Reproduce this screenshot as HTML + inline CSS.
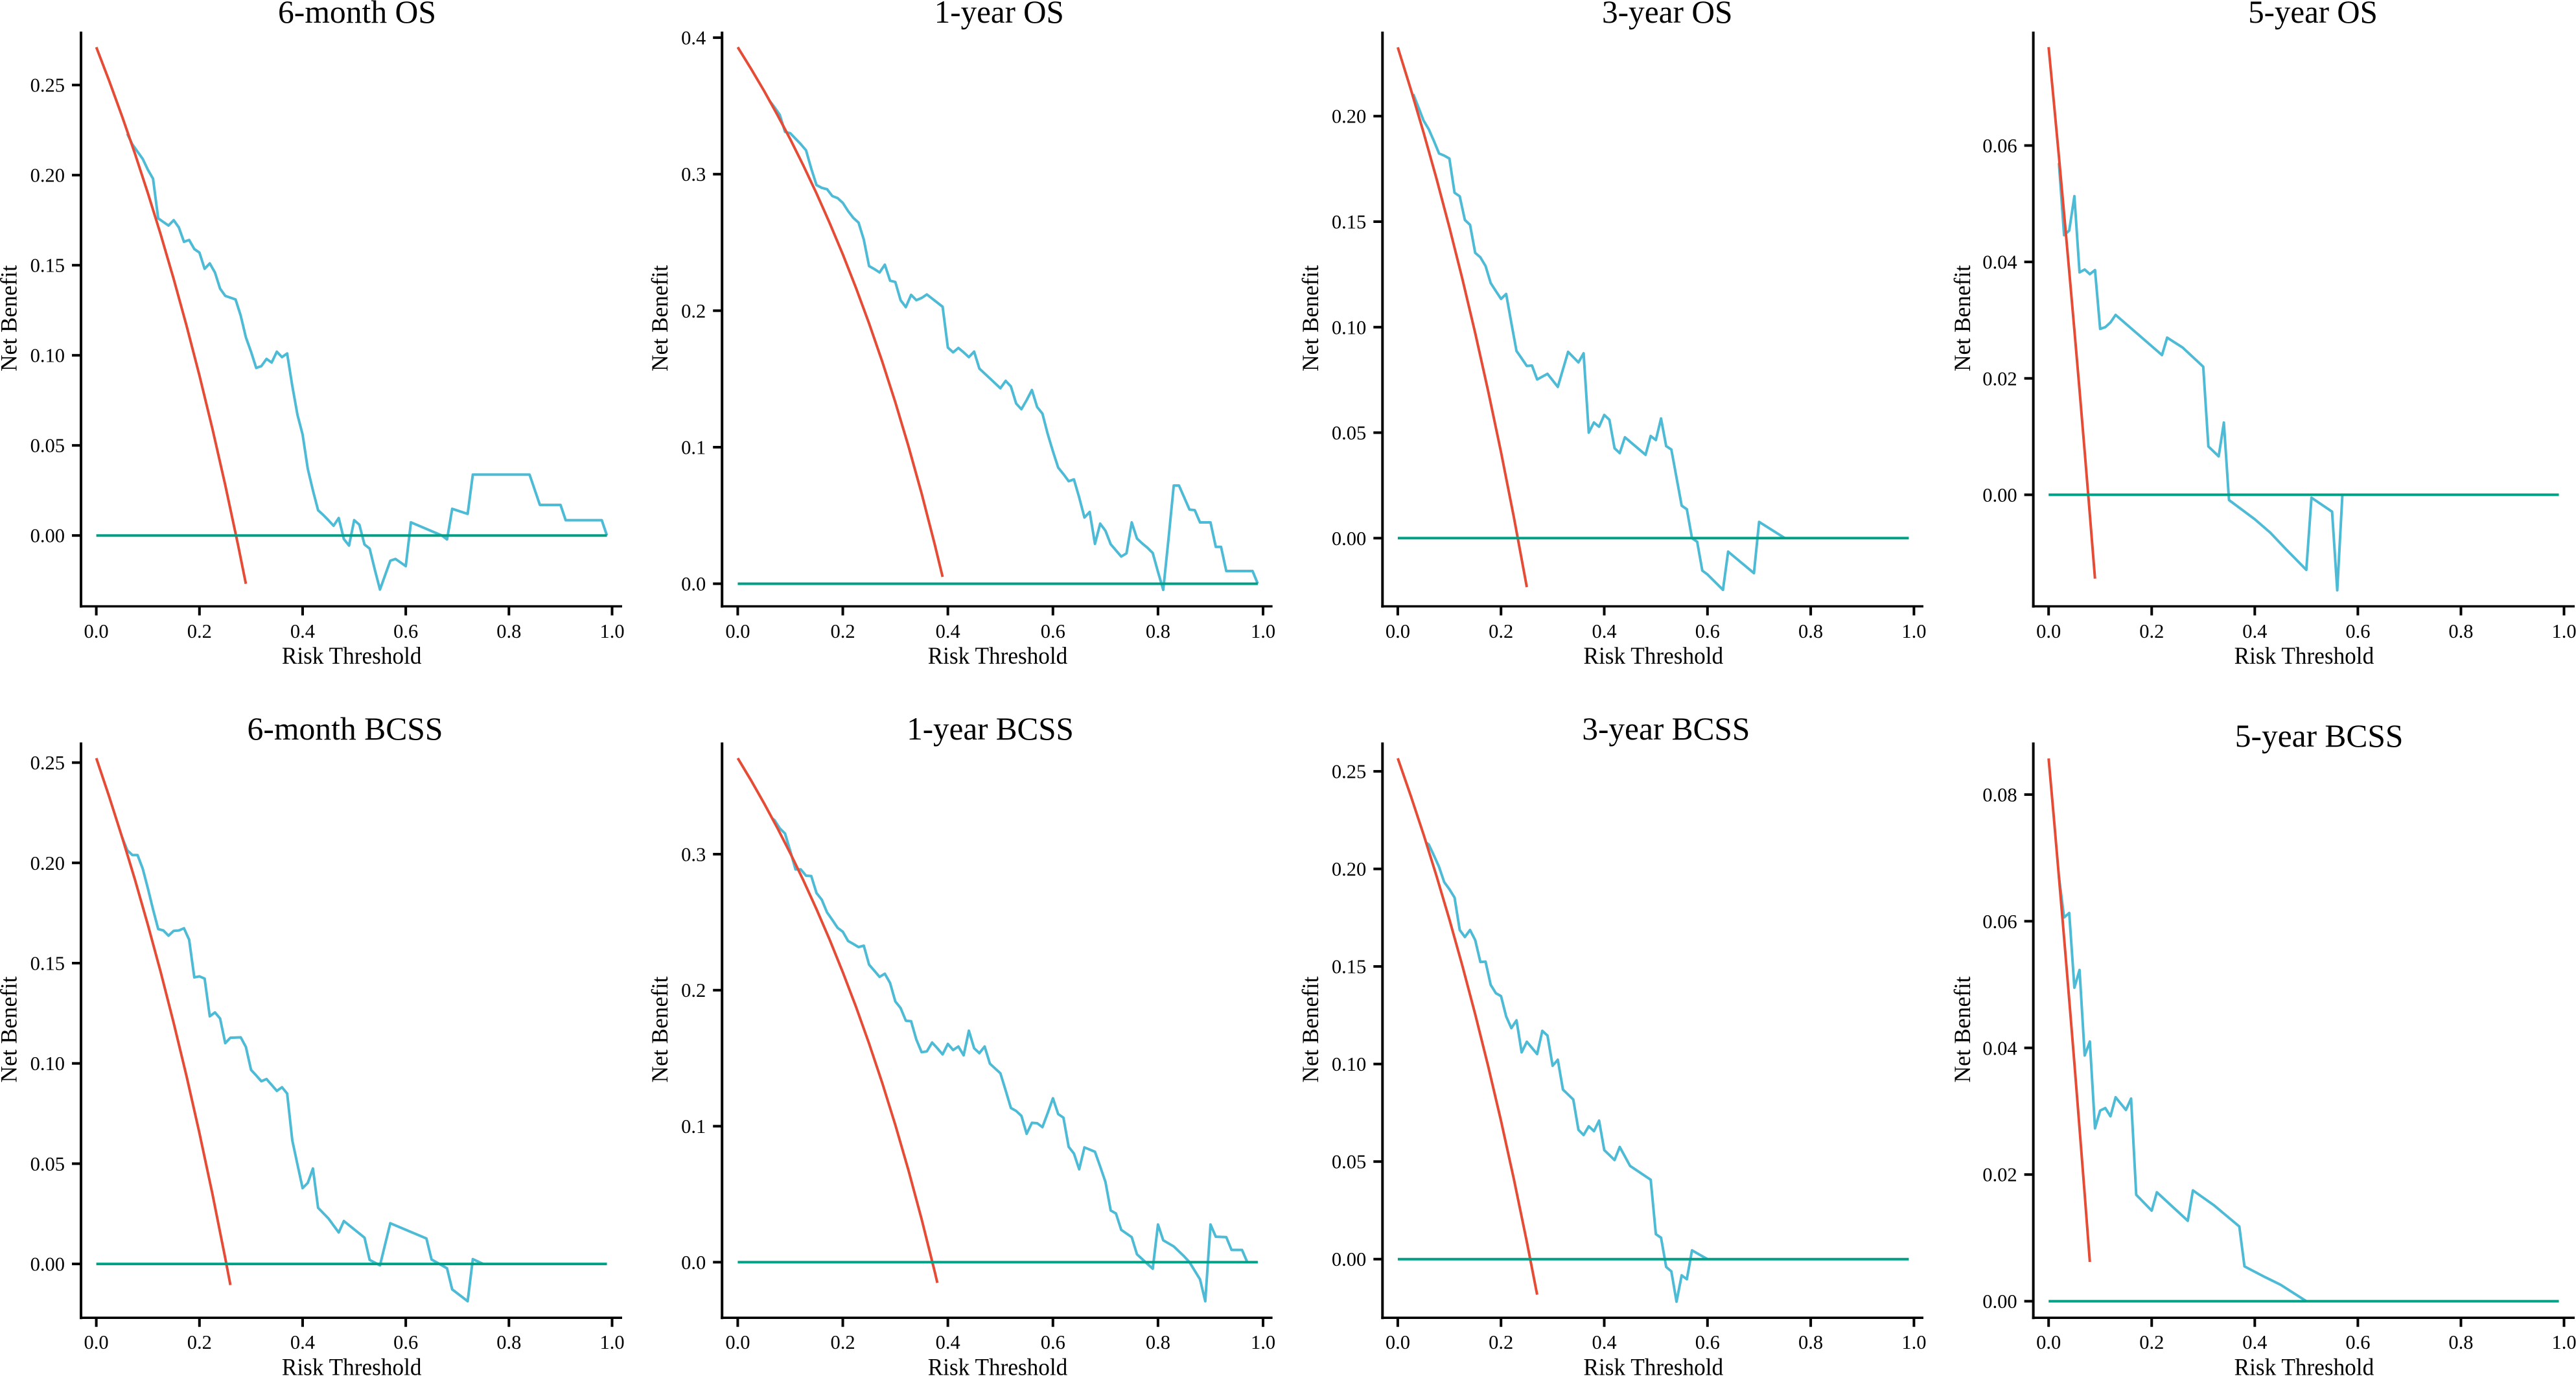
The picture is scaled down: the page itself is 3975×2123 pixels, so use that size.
<!DOCTYPE html>
<html lang="en">
<head>
<meta charset="utf-8">
<title>Decision curves for OS and BCSS</title>
<style>
html,body{margin:0;padding:0;background:#fff;width:3975px;height:2123px;overflow:hidden}
svg{display:block}
text{font-family:"Liberation Serif",serif;fill:#000}
</style>
</head>
<body>
<svg id="chart" xmlns="http://www.w3.org/2000/svg" width="3975" height="2123" viewBox="0 0 3975 2123"></svg>
<script>
// ---- Shared series: "treat none" reference ----
const noneT = [0, 0.99];
const noneNB = [0, 0];
const xTickValues = [0, 0.2, 0.4, 0.6, 0.8, 1.0];
const xTickLabels = ["0.0", "0.2", "0.4", "0.6", "0.8", "1.0"];

// ---- 6-month OS ----
const os6mTicks = ["0.00", "0.05", "0.10", "0.15", "0.20", "0.25"];
const os6mAllT = [0, .025, .05, .075, .1, .125, .15, .175, .2, .225, .25, .275, .29];
const os6mAllNB = [.271, .2523, .2326, .2119, .19, .1669, .1424, .1164, .0888, .0594, .028, -.0055, -.0268];
const os6mModelT = [.06,.07,.08,.09,.10,.11,.12,.13,.14,.15,.16,.17,.18,.19,.20,.21,.22,.23,.24,.25,.26,.27,.28,.29,.30,.31,.32,.33,.34,.35,.36,.37,.38,.39,.40,.41,.42,.43,.44,.45,.46,.47,.48,.49,.50,.51,.52,.53,.54,.55,.56,.57,.58,.59,.60,.61,.67,.68,.69,.72,.73,.84,.86,.90,.91,.98,.99];
const os6mModelNB = [.223,.217,.213,.209,.203,.198,.176,.174,.172,.175,.171,.163,.164,.159,.157,.148,.151,.146,.137,.133,.132,.131,.122,.110,.102,.093,.094,.098,.096,.102,.099,.101,.083,.067,.056,.037,.025,.014,.0114,.0085,.0054,.0097,-.002,-.0056,.0085,.006,-.005,-.0073,-.019,-.030,-.022,-.014,-.013,-.015,-.017,.0073,0,-.0022,.0148,.012,.0338,.0338,.017,.017,.0085,.0085,0];

// ---- 1-year OS ----
const os1yTicks = ["0.0", "0.1", "0.2", "0.3", "0.4"];
const os1yAllT = [0, .025, .05, .075, .1, .125, .15, .175, .2, .225, .25, .275, .3, .325, .35, .375, .39];
const os1yAllNB = [.393, .3774, .3611, .3438, .3256, .3063, .2859, .2642, .2413, .2168, .1907, .1628, .1329, .1007, .0662, .0288, .005];
const os1yModelT = [.06,.07,.08,.09,.10,.11,.12,.13,.14,.15,.16,.17,.18,.19,.20,.21,.22,.23,.24,.25,.26,.27,.28,.29,.30,.31,.32,.33,.34,.35,.36,.39,.40,.41,.42,.43,.44,.45,.46,.50,.51,.52,.53,.54,.55,.56,.57,.58,.59,.60,.61,.62,.63,.64,.65,.66,.67,.68,.69,.70,.71,.72,.73,.74,.75,.76,.77,.78,.79,.80,.81,.82,.83,.84,.86,.87,.88,.90,.91,.92,.93,.98,.99];
const os1yModelNB = [.354,.349,.3435,.331,.330,.326,.322,.3175,.304,.292,.290,.289,.284,.2825,.279,.273,.268,.2645,.252,.2327,.2305,.228,.2337,.222,.221,.2077,.2026,.2116,.2077,.2093,.2119,.2029,.173,.1695,.1727,.1695,.166,.170,.1576,.1432,.1486,.1445,.132,.1278,.1345,.1419,.1294,.1246,.1098,.097,.0851,.0803,.0751,.0764,.0632,.0485,.0526,.0292,.044,.0388,.0289,.0244,.0199,.0222,.0449,.0331,.0295,.0263,.0225,.0087,-.0045,.0327,.0719,.0719,.0543,.0539,.0449,.0449,.027,.027,.0093,.0093,0];

// ---- 3-year OS ----
const os3yTicks = ["0.00", "0.05", "0.10", "0.15", "0.20"];
const os3yAllT = [0, .025, .05, .075, .1, .125, .15, .175, .2, .225, .25];
const os3yAllNB = [.2326, .2129, .1922, .1704, .1473, .123, .0972, .0698, .0408, .0098, -.0232];
const os3yModelT = [.03,.04,.05,.06,.07,.08,.09,.10,.11,.12,.13,.14,.15,.16,.17,.18,.19,.20,.21,.22,.23,.24,.25,.26,.27,.29,.31,.33,.35,.36,.37,.38,.39,.40,.41,.42,.43,.44,.48,.49,.50,.51,.52,.53,.55,.56,.57,.58,.59,.60,.63,.64,.69,.70,.75];
const os3yModelNB = [.2104,.2042,.1979,.1938,.1882,.1823,.1813,.1799,.1637,.162,.1508,.1485,.1352,.1331,.129,.1209,.1171,.1134,.1157,.102,.0887,.0852,.0816,.0818,.0752,.0779,.0717,.0883,.0833,.0876,.05,.0548,.0528,.0584,.0561,.0426,.0403,.0478,.0395,.0484,.0465,.0567,.0436,.042,.0154,.0137,0,-.0017,-.0154,-.0172,-.0245,-.0064,-.0166,.0077,0];

// ---- 5-year OS ----
const os5yTicks = ["0.00", "0.02", "0.04", "0.06"];
const os5yAllT = [0, .01, .02, .03, .04, .05, .06, .07, .08, .09];
const os5yAllNB = [.0769, .0676, .0581, .0483, .0384, .0283, .018, .0074, -.0034, -.0144];
const os5yModelT = [.02,.03,.04,.05,.06,.07,.08,.09,.10,.11,.12,.13,.22,.23,.26,.30,.31,.33,.34,.35,.40,.43,.46,.50,.51,.55,.56,.57];
const os5yModelNB = [.057,.0446,.0454,.0513,.0382,.0387,.0379,.0386,.0285,.0288,.0296,.0309,.024,.027,.0253,.022,.0083,.0066,.0124,-.0009,-.0042,-.0065,-.0093,-.0129,-.0005,-.0029,-.0164,0];

// ---- 6-month BCSS ----
const bcss6mTicks = ["0.00", "0.05", "0.10", "0.15", "0.20", "0.25"];
const bcss6mAllT = [0, .025, .05, .075, .1, .125, .15, .175, .2, .225, .25, .26];
const bcss6mAllNB = [.2522, .233, .2128, .1916, .1691, .1454, .1202, .0936, .0652, .0351, .0029, -.0105];
const bcss6mModelT = [.05,.06,.07,.08,.09,.10,.11,.12,.13,.14,.15,.16,.17,.18,.19,.20,.21,.22,.23,.24,.25,.26,.28,.29,.30,.31,.32,.33,.35,.36,.37,.38,.39,.40,.41,.42,.43,.45,.47,.48,.52,.53,.55,.57,.64,.65,.67,.68,.69,.72,.73,.75];
const bcss6mModelNB = [.2128,.2063,.2039,.2039,.1971,.1873,.1768,.167,.1663,.1637,.1661,.1663,.1674,.1617,.1429,.1434,.1423,.1235,.1254,.1224,.1101,.1128,.113,.1082,.0968,.094,.0911,.0922,.0863,.0881,.085,.0616,.0496,.0378,.0404,.0476,.028,.0227,.0157,.0214,.0131,.002,-.0007,.0203,.0127,.0022,-.0007,-.0022,-.0127,-.0186,.0024,0];

// ---- 1-year BCSS ----
const bcss1yTicks = ["0.0", "0.1", "0.2", "0.3"];
const bcss1yAllT = [0, .025, .05, .075, .1, .125, .15, .175, .2, .225, .25, .275, .3, .325, .35, .375, .38];
const bcss1yAllNB = [.3706, .3545, .3375, .3196, .3007, .2807, .2595, .2371, .2132, .1879, .1608, .1319, .1009, .0676, .0317, -.007, -.0152];
const bcss1yModelT = [.065,.07,.08,.09,.10,.11,.12,.13,.14,.15,.16,.17,.18,.19,.20,.21,.22,.23,.24,.25,.26,.27,.28,.29,.30,.31,.32,.33,.34,.35,.36,.37,.38,.39,.40,.41,.42,.43,.44,.45,.46,.47,.48,.49,.50,.51,.52,.53,.54,.55,.56,.57,.58,.59,.60,.61,.62,.63,.64,.65,.66,.68,.69,.70,.71,.72,.73,.75,.76,.78,.79,.80,.81,.83,.85,.86,.88,.89,.90,.91,.93,.94,.96,.97];
const bcss1yModelNB = [.3265,.325,.319,.3152,.3023,.2888,.2888,.2842,.2839,.2714,.2665,.2572,.2517,.2459,.243,.2362,.234,.2317,.2327,.2188,.2143,.2098,.2121,.2053,.1917,.1869,.1776,.1772,.1637,.1544,.155,.1615,.1573,.1528,.1605,.156,.1586,.1521,.1702,.1573,.1537,.1586,.146,.1424,.1389,.1263,.1134,.1112,.1076,.0944,.1025,.1022,.0993,.1096,.1205,.1089,.1063,.0848,.0799,.0683,.0844,.0812,.0703,.059,.038,.0358,.0238,.0184,.0058,-.0013,-.0048,.0277,.0161,.0116,.0042,0,-.0126,-.0287,.0277,.0187,.0184,.009,.009,0];

// ---- 3-year BCSS ----
const bcss3yTicks = ["0.00", "0.05", "0.10", "0.15", "0.20", "0.25"];
const bcss3yAllT = [0, .025, .05, .075, .1, .125, .15, .175, .2, .225, .25, .27];
const bcss3yAllNB = [.2567, .2376, .2176, .1964, .1741, .1505, .1255, .099, .0709, .0409, .0089, -.0182];
const bcss3yModelT = [.055,.06,.07,.08,.09,.10,.11,.12,.13,.14,.15,.16,.17,.18,.19,.20,.21,.22,.23,.24,.25,.27,.28,.29,.30,.31,.32,.34,.35,.36,.37,.38,.39,.40,.42,.43,.45,.49,.50,.51,.52,.53,.54,.55,.56,.57,.60];
const bcss3yModelNB = [.2135,.2125,.2069,.201,.1932,.1896,.1853,.1687,.1651,.1687,.1635,.1523,.1525,.1406,.1363,.1348,.1244,.1184,.1224,.106,.1114,.1051,.117,.1146,.0991,.1022,.0869,.0818,.0663,.0636,.0681,.0656,.071,.0559,.0508,.0575,.0478,.0407,.0128,.011,-.004,-.0063,-.0218,-.0083,-.0103,.0045,0];

// ---- 5-year BCSS ----
const bcss5yTicks = ["0.00", "0.02", "0.04", "0.06", "0.08"];
const bcss5yAllT = [0, .01, .02, .03, .04, .05, .06, .07, .08];
const bcss5yAllNB = [.0857, .0765, .067, .0574, .0476, .0376, .0273, .0169, .0062];
const bcss5yModelT = [.02,.03,.04,.05,.06,.07,.08,.09,.10,.11,.12,.13,.15,.16,.17,.20,.21,.27,.28,.32,.37,.38,.42,.45,.50];
const bcss5yModelNB = [.067,.0606,.0613,.0495,.0523,.0388,.041,.0273,.0301,.0305,.0292,.0322,.0302,.032,.0168,.0143,.0172,.0127,.0175,.0152,.0118,.0055,.0038,.0026,0];

// ---- Layout (pixels) ----
const panels = [
  {key:"os-6-month",title:"6-month OS",ticks:os6mTicks,allT:os6mAllT,allNB:os6mAllNB,modelT:os6mModelT,modelNB:os6mModelNB,left:125,x0:148.6,x1:944.5,end:960,top:48.7,bottom:935.5,y0:826.2,yRefVal:.25,yRefPx:131.2,titleX:551,titleY:35,titleW:244,xTitleX:542.7,xTitleY:1024,tickLabelY:984,yTitleX:25.5,yTitleY:491},
  {key:"os-1-year",title:"1-year OS",ticks:os1yTicks,allT:os1yAllT,allNB:os1yAllNB,modelT:os1yModelT,modelNB:os1yModelNB,left:1114.2,x0:1138.4,x1:1949,end:1963.6,top:48.7,bottom:935.5,y0:900.6,yRefVal:.4,yRefPx:58.1,titleX:1541.8,titleY:35,titleW:200,xTitleX:1539.5,xTitleY:1024,tickLabelY:984,yTitleX:1030,yTitleY:491},
  {key:"os-3-year",title:"3-year OS",ticks:os3yTicks,allT:os3yAllT,allNB:os3yAllNB,modelT:os3yModelT,modelNB:os3yModelNB,left:2133.3,x0:2156.9,x1:2953.4,end:2968,top:48.7,bottom:935.5,y0:830.3,yRefVal:.2,yRefPx:179.2,titleX:2572.7,titleY:35,titleW:201.5,xTitleX:2551.3,xTitleY:1024,tickLabelY:984,yTitleX:2033.8,yTitleY:491},
  {key:"os-5-year",title:"5-year OS",ticks:os5yTicks,allT:os5yAllT,allNB:os5yAllNB,modelT:os5yModelT,modelNB:os5yModelNB,left:3137.6,x0:3161.2,x1:3956.5,end:3973,top:48.7,bottom:935.5,y0:763.4,yRefVal:.06,yRefPx:224.5,titleX:3569,titleY:35,titleW:199.6,xTitleX:3555.4,xTitleY:1024,tickLabelY:984,yTitleX:3040,yTitleY:491},
  {key:"bcss-6-month",title:"6-month BCSS",ticks:bcss6mTicks,allT:bcss6mAllT,allNB:bcss6mAllNB,modelT:bcss6mModelT,modelNB:bcss6mModelNB,left:125,x0:148.6,x1:944.5,end:960,top:1145.5,bottom:2033.2,y0:1950.1,yRefVal:.25,yRefPx:1176.6,titleX:532.5,titleY:1141,titleW:302,xTitleX:542.7,xTitleY:2121.5,tickLabelY:2081,yTitleX:25.5,yTitleY:1588.4},
  {key:"bcss-1-year",title:"1-year BCSS",ticks:bcss1yTicks,allT:bcss1yAllT,allNB:bcss1yAllNB,modelT:bcss1yModelT,modelNB:bcss1yModelNB,left:1114.2,x0:1138.4,x1:1949,end:1963.6,top:1145.5,bottom:2033.2,y0:1947.4,yRefVal:.3,yRefPx:1317.9,titleX:1528,titleY:1141,titleW:257.6,xTitleX:1539.5,xTitleY:2121.5,tickLabelY:2081,yTitleX:1030,yTitleY:1588.4},
  {key:"bcss-3-year",title:"3-year BCSS",ticks:bcss3yTicks,allT:bcss3yAllT,allNB:bcss3yAllNB,modelT:bcss3yModelT,modelNB:bcss3yModelNB,left:2133.3,x0:2156.9,x1:2953.4,end:2968,top:1145.5,bottom:2033.2,y0:1942.7,yRefVal:.25,yRefPx:1190.1,titleX:2570.8,titleY:1141,titleW:259,xTitleX:2551.3,xTitleY:2121.5,tickLabelY:2081,yTitleX:2033.8,yTitleY:1588.4},
  {key:"bcss-5-year",title:"5-year BCSS",ticks:bcss5yTicks,allT:bcss5yAllT,allNB:bcss5yAllNB,modelT:bcss5yModelT,modelNB:bcss5yModelNB,left:3137.6,x0:3161.2,x1:3956.5,end:3973,top:1145.5,bottom:2033.2,y0:2007.6,yRefVal:.08,yRefPx:1225.9,titleX:3578.6,titleY:1152,titleW:259.6,xTitleX:3555.4,xTitleY:2121.5,tickLabelY:2081,yTitleX:3040,yTitleY:1588.4}
];

const NS = "http://www.w3.org/2000/svg";
const root = document.getElementById("chart");
function mk(parent, tag, attrs, txt) {
  const el = document.createElementNS(NS, tag);
  for (const k in attrs) el.setAttribute(k, attrs[k]);
  if (txt !== undefined) el.textContent = txt;
  parent.appendChild(el);
  return el;
}
function curve(parent, ts, vs, xf, yf, color) {
  const pts = ts.map(function (t, i) { return xf(t).toFixed(2) + "," + yf(vs[i]).toFixed(2); }).join(" ");
  return mk(parent, "polyline", {points: pts, fill: "none", stroke: color, "stroke-width": 4, "stroke-linejoin": "round"});
}

panels.forEach(function (p) {
  const xf = function (t) { return p.x0 + t * (p.x1 - p.x0); };
  const yf = function (v) { return p.y0 - v * (p.y0 - p.yRefPx) / p.yRefVal; };

  const g = mk(root, "g", {});
  
  

  const title = mk(g, "text", {x: p.titleX, y: p.titleY, "text-anchor": "middle", "font-size": 50, textLength: p.titleW, lengthAdjust: "spacingAndGlyphs"}, p.title);
  
  

  const model = curve(g, p.modelT, p.modelNB, xf, yf, "#4DBBD5");
  
  

  const all = curve(g, p.allT, p.allNB, xf, yf, "#E64B35");
  
  

  const none = curve(g, noneT, noneNB, xf, yf, "#00A087");
  
  

  const yAxis = mk(g, "line", {x1: p.left, x2: p.left, y1: p.top, y2: p.bottom + 2, stroke: "#000", "stroke-width": 4});
  
  

  const xAxis = mk(g, "line", {x1: p.left - 2, x2: p.end, y1: p.bottom, y2: p.bottom, stroke: "#000", "stroke-width": 3.6});
  
  

  xTickValues.forEach(function (t, i) {
    const tick = mk(g, "line", {x1: xf(t), x2: xf(t), y1: p.bottom, y2: p.bottom + 14, stroke: "#000", "stroke-width": 4});
    
    
    const label = mk(g, "text", {x: xf(t), y: p.tickLabelY, "text-anchor": "middle", "font-size": 30.5}, xTickLabels[i]);
    
    
  });

  p.ticks.forEach(function (s) {
    const v = parseFloat(s);
    const tick = mk(g, "line", {x1: p.left - 14, x2: p.left, y1: yf(v), y2: yf(v), stroke: "#000", "stroke-width": 4});
    
    
    const label = mk(g, "text", {x: p.left - 25, y: yf(v) + 10.5, "text-anchor": "end", "font-size": 30.5}, s);
    
    
  });

  const xTitle = mk(g, "text", {x: p.xTitleX, y: p.xTitleY, "text-anchor": "middle", "font-size": 37, textLength: 215.6, lengthAdjust: "spacingAndGlyphs"}, "Risk Threshold");
  
  

  const yTitle = mk(g, "text", {x: 0, y: 0, transform: "translate(" + p.yTitleX + "," + p.yTitleY + ") rotate(-90)", "text-anchor": "middle", "font-size": 36, textLength: 164, lengthAdjust: "spacingAndGlyphs"}, "Net Benefit");
  
  
});
</script>
</body>
</html>
